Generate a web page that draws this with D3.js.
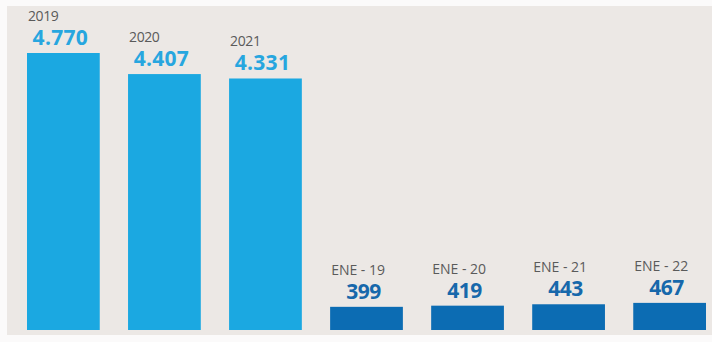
<!DOCTYPE html>
<html>
<head>
<meta charset="utf-8">
<script src="https://cdn.jsdelivr.net/npm/d3@7/dist/d3.min.js"></script>
<style>
  html, body { margin: 0; padding: 0; background: #fbfafa; }
  svg { display: block; }
</style>
</head>
<body>
<svg id="chart" width="712" height="342"></svg>
<script>
// Yearly totals followed by January figures
const categories = ["2019", "2020", "2021", "ENE - 19", "ENE - 20", "ENE - 21", "ENE - 22"];
const values = [4770, 4407, 4331, 399, 419, 443, 467];
const valueLabels = ["4.770", "4.407", "4.331", "399", "419", "443", "467"];
const groups = ["year", "year", "year", "month", "month", "month", "month"];

const W = 712, H = 342;
const svg = d3.select("#chart");

// panel background
svg.append("rect").attr("x", 7).attr("y", 6).attr("width", W - 7).attr("height", 329)
  .attr("fill", "#ece8e5");

const baseY = 330;
const x = d3.scaleBand().domain(categories).range([27, 706]).paddingInner(0.28).paddingOuter(0);
const y = d3.scaleLinear().domain([0, 4770]).range([baseY, 53]);

const fill = { year: "#1ba8e1", month: "#0c6cb3" };
const labelFill = { year: "#27a6df", month: "#1768ab" };

const g = svg.append("g");
const items = categories.map((c, i) => ({ c, v: values[i], lab: valueLabels[i], grp: groups[i] }));

g.selectAll("rect.bar").data(items).enter().append("rect")
  .attr("class", "bar")
  .attr("x", d => x(d.c))
  .attr("y", d => y(d.v))
  .attr("width", x.bandwidth())
  .attr("height", d => baseY - y(d.v))
  .attr("fill", d => fill[d.grp]);

g.selectAll("text.val").data(items).enter().append("text")
  .attr("class", "val")
  .attr("x", d => x(d.c) + x.bandwidth() / 2 - 3)
  .attr("y", d => y(d.v) - 8)
  .attr("text-anchor", "middle")
  .attr("font-family", "'Open Sans', sans-serif")
  .attr("font-weight", 700)
  .attr("font-size", 21)
  .attr("letter-spacing", d => d.grp === "year" ? "0.3" : "-0.5")
  .attr("fill", d => labelFill[d.grp])
  .text(d => d.lab);

g.selectAll("text.cat").data(items).enter().append("text")
  .attr("class", "cat")
  .attr("x", d => x(d.c) + 1)
  .attr("y", d => y(d.v) - 32)
  .attr("font-family", "'Open Sans', sans-serif")
  .attr("font-size", 14)
  .attr("letter-spacing", d => d.grp === "year" ? "-0.4" : "0")
  .attr("fill", "#5a5a5a")
  .text(d => d.c);
</script>
</body>
</html>
